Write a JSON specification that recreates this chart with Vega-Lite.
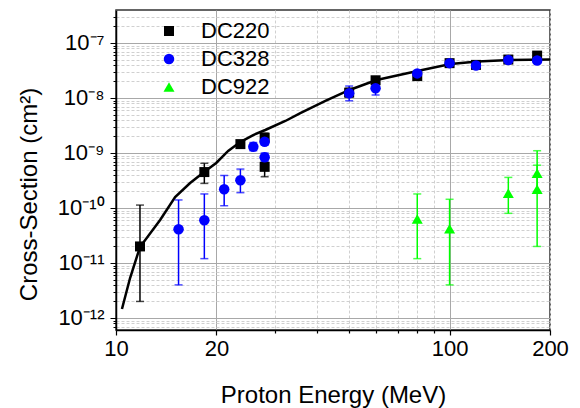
{
  "$schema": "https://vega.github.io/schema/vega-lite/v6.json",
  "autosize": {"type": "none"},
  "padding": {"left": 116, "top": 10, "right": 30, "bottom": 78},
  "width": 434,
  "height": 320,
  "background": "white",
  "config": {
    "font": "Liberation Sans",
    "view": {"stroke": "#333333", "strokeWidth": 1.5}
  },
  "datasets": {
    "pts": [
      {"series": "DC220", "E": 11.8, "s": 2.0e-11, "lo": 2.0e-12, "hi": 1.13e-10},
      {"series": "DC220", "E": 18.4, "s": 4.5e-10, "lo": 2.8e-10, "hi": 6.5e-10},
      {"series": "DC220", "E": 23.6, "s": 1.45e-9, "lo": 1.25e-9, "hi": 1.65e-9},
      {"series": "DC220", "E": 27.9, "s": 1.9e-9, "lo": 1.6e-9, "hi": 2.3e-9},
      {"series": "DC220", "E": 27.9, "s": 5.6e-10, "lo": 3.7e-10, "hi": 7.5e-10},
      {"series": "DC220", "E": 50, "s": 1.25e-8, "lo": 1.05e-8, "hi": 1.5e-8},
      {"series": "DC220", "E": 60, "s": 2.1e-8, "lo": 1.8e-8, "hi": 2.4e-8},
      {"series": "DC220", "E": 80, "s": 2.5e-8, "lo": 2.2e-8, "hi": 2.8e-8},
      {"series": "DC220", "E": 100, "s": 4.3e-8, "lo": null, "hi": null},
      {"series": "DC220", "E": 120, "s": 4.0e-8, "lo": null, "hi": null},
      {"series": "DC220", "E": 150, "s": 5.0e-8, "lo": null, "hi": null},
      {"series": "DC220", "E": 183, "s": 5.9e-8, "lo": 5.0e-8, "hi": 6.6e-8},
      {"series": "DC328", "E": 15.4, "s": 4.1e-11, "lo": 4.0e-12, "hi": 1.4e-10},
      {"series": "DC328", "E": 18.4, "s": 6.0e-11, "lo": 1.2e-11, "hi": 1.8e-10},
      {"series": "DC328", "E": 21.1, "s": 2.2e-10, "lo": 1.1e-10, "hi": 3.9e-10},
      {"series": "DC328", "E": 23.6, "s": 3.2e-10, "lo": 1.9e-10, "hi": 5.1e-10},
      {"series": "DC328", "E": 25.8, "s": 1.3e-9, "lo": 1.1e-9, "hi": 1.55e-9},
      {"series": "DC328", "E": 27.9, "s": 1.6e-9, "lo": 1.4e-9, "hi": 1.8e-9},
      {"series": "DC328", "E": 27.9, "s": 8.4e-10, "lo": 7.0e-10, "hi": 1.0e-9},
      {"series": "DC328", "E": 50, "s": 1.22e-8, "lo": 8.9e-9, "hi": 1.65e-8},
      {"series": "DC328", "E": 60, "s": 1.5e-8, "lo": 1.13e-8, "hi": 1.9e-8},
      {"series": "DC328", "E": 80, "s": 2.8e-8, "lo": null, "hi": null},
      {"series": "DC328", "E": 100, "s": 4.3e-8, "lo": null, "hi": null},
      {"series": "DC328", "E": 120, "s": 3.9e-8, "lo": null, "hi": null},
      {"series": "DC328", "E": 150, "s": 4.9e-8, "lo": null, "hi": null},
      {"series": "DC328", "E": 183, "s": 4.8e-8, "lo": 4.3e-8, "hi": 5.4e-8},
      {"series": "DC922", "E": 80, "s": 6.3e-11, "lo": 1.2e-11, "hi": 1.8e-10},
      {"series": "DC922", "E": 100, "s": 4.2e-11, "lo": 4.0e-12, "hi": 1.44e-10},
      {"series": "DC922", "E": 150, "s": 1.86e-10, "lo": 8.0e-11, "hi": 3.6e-10},
      {"series": "DC922", "E": 183, "s": 4.3e-10, "lo": 2.0e-10, "hi": 1.1e-9},
      {"series": "DC922", "E": 183, "s": 2.2e-10, "lo": 2.0e-11, "hi": 6.0e-10}
    ],
    "curve": [
      {"E": 10.42, "s": 1.46e-12},
      {"E": 11.02, "s": 5.33e-12},
      {"E": 11.8, "s": 1.95e-11},
      {"E": 13.56, "s": 6.05e-11},
      {"E": 15.04, "s": 1.58e-10},
      {"E": 16.68, "s": 2.85e-10},
      {"E": 18.37, "s": 4.52e-10},
      {"E": 19.97, "s": 6.58e-10},
      {"E": 21.69, "s": 1.09e-9},
      {"E": 23.57, "s": 1.58e-9},
      {"E": 25.78, "s": 2.12e-9},
      {"E": 28.02, "s": 2.62e-9},
      {"E": 32.18, "s": 3.82e-9},
      {"E": 35.69, "s": 5.33e-9},
      {"E": 42.43, "s": 8.82e-9},
      {"E": 50.1, "s": 1.40e-8},
      {"E": 60.4, "s": 2.12e-8},
      {"E": 80.1, "s": 3.10e-8},
      {"E": 100.7, "s": 4.15e-8},
      {"E": 121.3, "s": 4.61e-8},
      {"E": 151.4, "s": 4.91e-8},
      {"E": 200, "s": 5.01e-8}
    ]
  },
  "encoding": {
    "x": {
      "field": "E", "type": "quantitative",
      "scale": {"type": "log", "domain": [10, 200], "nice": false},
      "axis": {
        "title": "Proton Energy (MeV)",
        "titleFontSize": 24, "titleFontWeight": "normal", "titleColor": "black",
        "titleBaseline": "alphabetic", "titleY": 72,
        "values": [10, 20, 30, 40, 50, 60, 70, 80, 90, 100, 200],
        "format": "d",
        "labelExpr": "(datum.value == 10 || datum.value == 20 || datum.value == 100 || datum.value == 200) ? datum.label : ''",
        "labelFontSize": 22, "labelColor": "black", "labelPadding": 3,
        "labelFlush": false, "labelOverlap": false,
        "domainColor": "black", "domainWidth": 1.5,
        "tickColor": "black", "tickWidth": 1.2,
        "tickSize": {"condition": {"test": "datum.value == 10 || datum.value == 20 || datum.value == 100 || datum.value == 200", "value": 5}, "value": 3},
        "grid": true,
        "gridColor": {"condition": {"test": "datum.value == 20 || datum.value == 100", "value": "#a8a8a8"}, "value": "#d0d0d0"},
        "gridDash": {"condition": {"test": "datum.value == 20 || datum.value == 100", "value": []}, "value": [3, 2]},
        "gridWidth": 1
      }
    },
    "y": {
      "field": "s", "type": "quantitative",
      "scale": {"type": "log", "domain": [6.05e-13, 3.98e-7], "nice": false},
      "axis": {
        "title": "Cross-Section (cm²)",
        "titleFontSize": 24, "titleFontWeight": "normal", "titleColor": "black",
        "titleBaseline": "alphabetic", "titleX": -80, "titleY": 184, "titleAngle": -90, "titleAlign": "center",
        "values": [7e-13, 8e-13, 9e-13,
                   1e-12, 2e-12, 3e-12, 4e-12, 5e-12, 6e-12, 7e-12, 8e-12, 9e-12,
                   1e-11, 2e-11, 3e-11, 4e-11, 5e-11, 6e-11, 7e-11, 8e-11, 9e-11,
                   1e-10, 2e-10, 3e-10, 4e-10, 5e-10, 6e-10, 7e-10, 8e-10, 9e-10,
                   1e-9, 2e-9, 3e-9, 4e-9, 5e-9, 6e-9, 7e-9, 8e-9, 9e-9,
                   1e-8, 2e-8, 3e-8, 4e-8, 5e-8, 6e-8, 7e-8, 8e-8, 9e-8,
                   1e-7, 2e-7, 3e-7],
        "labelExpr": "abs(log(datum.value)/LN10 - round(log(datum.value)/LN10)) > 0.01 ? '' : ['10⁻¹²','10⁻¹¹','10⁻¹⁰','10⁻⁹','10⁻⁸','10⁻⁷'][round(log(datum.value)/LN10) + 12]",
        "labelFontSize": 22, "labelColor": "black", "labelPadding": 6,
        "labelFlush": false, "labelOverlap": false,
        "domainColor": "black", "domainWidth": 1.5,
        "tickColor": "black", "tickWidth": 1,
        "tickSize": {"condition": {"test": "abs(log(datum.value)/LN10 - round(log(datum.value)/LN10)) < 0.01", "value": 6}, "value": 3},
        "grid": true,
        "gridColor": {"condition": {"test": "abs(log(datum.value)/LN10 - round(log(datum.value)/LN10)) < 0.01", "value": "#a8a8a8"}, "value": "#d0d0d0"},
        "gridDash": {"condition": {"test": "abs(log(datum.value)/LN10 - round(log(datum.value)/LN10)) < 0.01", "value": []}, "value": [3, 2]},
        "gridWidth": 1
      }
    }
  },
  "layer": [
    {
      "data": {"name": "curve"},
      "mark": {"type": "line", "color": "black", "strokeWidth": 2.5, "clip": true},
      "encoding": {"order": {"field": "E", "type": "quantitative"}}
    },
    {
      "data": {"name": "pts"},
      "mark": {"type": "rule", "strokeWidth": 1.5},
      "encoding": {
        "y": {"field": "lo", "type": "quantitative"},
        "y2": {"field": "hi"},
        "stroke": {"field": "series", "type": "nominal", "legend": null,
          "scale": {"range": ["#000000", "#0000ff", "#00ff00"]}}
      }
    },
    {
      "data": {"name": "pts"},
      "mark": {"type": "tick", "orient": "horizontal", "size": 8, "thickness": 1.5},
      "encoding": {
        "y": {"field": "lo", "type": "quantitative"},
        "fill": {"field": "series", "type": "nominal", "legend": null,
          "scale": {"range": ["#000000", "#0000ff", "#00ff00"]}}
      }
    },
    {
      "data": {"name": "pts"},
      "mark": {"type": "tick", "orient": "horizontal", "size": 8, "thickness": 1.5},
      "encoding": {
        "y": {"field": "hi", "type": "quantitative"},
        "fill": {"field": "series", "type": "nominal", "legend": null}
      }
    },
    {
      "data": {"name": "pts"},
      "mark": {"type": "point", "filled": true, "opacity": 1},
      "encoding": {
        "color": {
          "field": "series", "type": "nominal",
          "scale": {"domain": ["DC220", "DC328", "DC922"], "range": ["#000000", "#0000ff", "#00ff00"]},
          "legend": {
            "title": null, "orient": "none", "legendX": 42, "legendY": 10,
            "padding": 0, "labelFontSize": 22, "labelColor": "black", "labelOffset": 21,
            "rowPadding": 6, "labelFont": "Liberation Sans", "symbolStrokeWidth": 0
          }
        },
        "shape": {
          "field": "series", "type": "nominal",
          "scale": {"domain": ["DC220", "DC328", "DC922"], "range": ["square", "circle", "triangle-up"]}
        },
        "size": {
          "field": "series", "type": "nominal",
          "scale": {"domain": ["DC220", "DC328", "DC922"], "range": [100, 121, 230]}
        }
      }
    }
  ]
}
